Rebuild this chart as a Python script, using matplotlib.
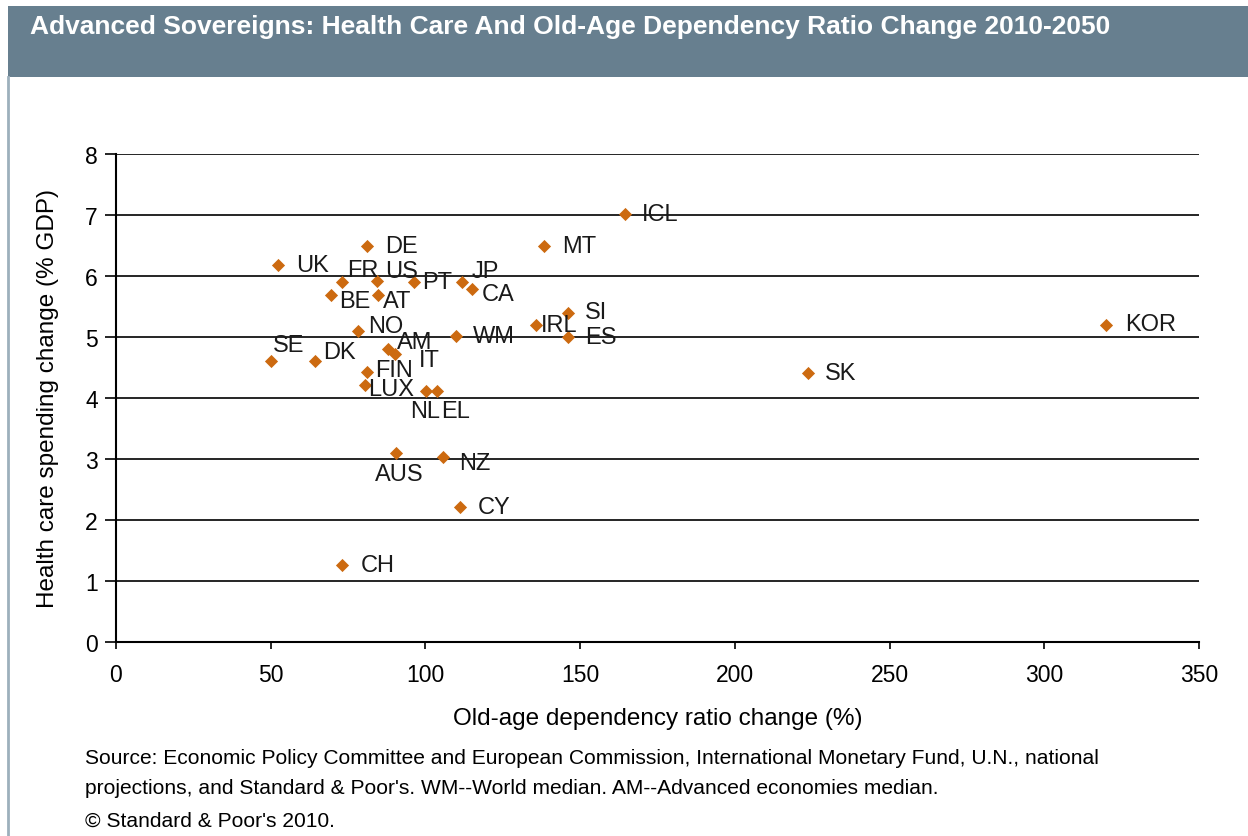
import matplotlib
matplotlib.use("Agg")
import matplotlib.pyplot as plt
from matplotlib.patches import Rectangle
from matplotlib.lines import Line2D

plt.rcParams['font.family'] = ['Liberation Sans', 'DejaVu Sans']

# ---- data ----
countries = ["UK", "DE", "FR", "US", "PT", "JP", "CA", "BE", "AT", "NO", "WM",
             "SE", "DK", "AM", "IT", "FIN", "LUX", "NL", "EL", "IRL", "SI", "ES",
             "MT", "ICL", "KOR", "SK", "AUS", "NZ", "CY", "CH"]
dependency_change = [52.3, 81.0, 73.1, 84.4, 96.2, 111.8, 115.0, 69.4, 84.7, 78.3, 109.9,
                     50.0, 64.2, 87.9, 90.3, 81.0, 80.6, 100.2, 103.7, 135.8, 146.1, 146.1,
                     138.4, 164.5, 320.0, 223.5, 90.6, 105.7, 111.3, 72.9]
health_change = [6.18, 6.49, 5.90, 5.92, 5.90, 5.90, 5.79, 5.69, 5.69, 5.10, 5.01,
                 4.61, 4.61, 4.81, 4.72, 4.42, 4.22, 4.12, 4.12, 5.20, 5.39, 5.00,
                 6.49, 7.02, 5.20, 4.41, 3.10, 3.03, 2.21, 1.26]
x_ticks = [0, 50, 100, 150, 200, 250, 300, 350]
y_ticks = [0, 1, 2, 3, 4, 5, 6, 7, 8]

# label offsets in pixels (dx to left edge of text, dy to text center; y up)
label_offsets = {
    "UK": (18, 0), "DE": (18, 0), "FR": (5, 12), "US": (8, 10), "PT": (8, 0),
    "JP": (10, 11), "CA": (10, -5), "BE": (8, -6), "AT": (5, -6), "NO": (10, 5),
    "WM": (17, 0), "SE": (2, 16), "DK": (8, 9), "AM": (9, 7), "IT": (23, -6),
    "FIN": (8, 2), "LUX": (3, -4), "NL": (-16, -20), "EL": (4, -20),
    "IRL": (5, 0), "SI": (17, 1), "ES": (17, 0), "MT": (18, 0), "ICL": (17, 0),
    "KOR": (19, 1), "SK": (17, 0), "AUS": (-21, -21), "NZ": (16, -6),
    "CY": (17, 0), "CH": (19, 0),
}

W, H = 1248, 837
fig = plt.figure(figsize=(W / 100, H / 100), dpi=100)

# header band and frame
fig.patches.append(Rectangle((8 / W, 1 - 78 / H), 1 - 8 / W, 71 / H,
                             transform=fig.transFigure, facecolor="#677F8F",
                             edgecolor="none", zorder=0))
fig.add_artist(Line2D([8 / W, 8 / W], [0, 1 - 78 / H], transform=fig.transFigure,
                      color="#9DB0BC", lw=2))
fig.text(30 / W, 1 - 27 / H,
         "Advanced Sovereigns: Health Care And Old-Age Dependency Ratio Change 2010-2050",
         color="white", fontsize=19, fontweight="bold",
         va="center", ha="left")

ax = fig.add_axes([116 / W, 1 - 643 / H, 1083 / W, 488 / H])
ax.set_xlim(0, 350)
ax.set_ylim(0, 8)
for yv in y_ticks[1:]:
    ax.axhline(yv, color="black", lw=1.2, zorder=1)
ax.scatter(dependency_change, health_change, marker="D", s=45, color="#CC6A10",
           linewidths=0, zorder=3)

for name, xv, yv in zip(countries, dependency_change, health_change):
    dx, dy = label_offsets[name]
    ax.annotate(name, (xv, yv), xytext=(dx, dy), textcoords="offset pixels",
                fontsize=17, color="#1a1a1a", ha="left", va="center", zorder=4)

ax.set_xticks(x_ticks)
ax.set_yticks(y_ticks)
ax.tick_params(axis="both", labelsize=16.5, colors="black", width=1.2)
ax.tick_params(axis="x", pad=10, length=5)
ax.tick_params(axis="y", pad=5, length=8)
for s in ["top", "right"]:
    ax.spines[s].set_visible(False)
for s in ["left", "bottom"]:
    ax.spines[s].set_linewidth(1.5)

ax.set_xlabel("Old-age dependency ratio change (%)", fontsize=17.5, labelpad=15)
ax.set_ylabel("Health care spending change (% GDP)", fontsize=17.5, labelpad=19)

src_line1 = "Source: Economic Policy Committee and European Commission, International Monetary Fund, U.N., national"
src_line2 = "projections, and Standard & Poor's. WM--World median. AM--Advanced economies median."
copyright_line = "\u00a9 Standard & Poor's 2010."
fig.text(85 / W, 1 - 759 / H, src_line1, fontsize=15.1, va="center", ha="left")
fig.text(85 / W, 1 - 789 / H, src_line2, fontsize=15.1, va="center", ha="left")
fig.text(85 / W, 1 - 821 / H, copyright_line, fontsize=15.1, va="center", ha="left")

fig.savefig("out.png", dpi=100)
